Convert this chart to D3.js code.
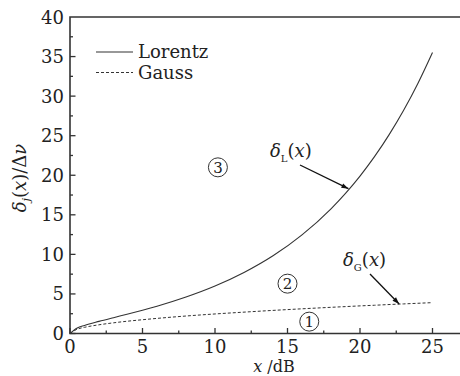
<!DOCTYPE html>
<html>
<head>
<meta charset="utf-8">
<script src="https://d3js.org/d3.v7.min.js"></script>
<style>
    body { margin: 0; background: #fff; }
    #chart { width: 460px; height: 376px; overflow: hidden; }
    text { font-family: "DejaVu Serif", serif; fill: #222; }
</style>
</head>
<body>
<div id="chart"></div>
<script>
// x in dB
var x_vals = [0, 0.5, 1, 2, 3, 4, 5, 6, 8, 10, 12, 14, 16, 18, 19, 20, 21, 22, 23, 24, 25];
var lorentz_vals = [0, 0.70, 1.02, 1.53, 2.00, 2.46, 2.94, 3.45, 4.61, 6.00, 7.71, 9.82, 12.46, 15.76, 17.71, 19.90, 22.35, 25.10, 28.18, 31.63, 35.51];
var gauss_vals = [0, 0.55, 0.78, 1.10, 1.35, 1.56, 1.74, 1.91, 2.21, 2.47, 2.70, 2.92, 3.12, 3.31, 3.40, 3.49, 3.57, 3.66, 3.74, 3.82, 3.90];
var x_ticks = [0, 5, 10, 15, 20, 25];
var y_ticks = [0, 5, 10, 15, 20, 25, 30, 35, 40];
var legend_names = ["Lorentz", "Gauss"];

var draw_chart = {
    width: 460,
    height: 376,
    view: 0,
    x: 0,
    y: 0,
    initialize: function() {
        var self = this;
        self.view = d3.select("#chart").append("svg")
            .attr("width", self.width)
            .attr("height", self.height);
        self.x = d3.scaleLinear().domain([0, 28]).range([70, 476]);
        self.y = d3.scaleLinear().domain([0, 40]).range([333.5, 17]);
    },
    draw_axes: function() {
        var self = this;
        var g = self.view.append("g");
        var minor_x = d3.range(0, 28, 2.5);
        var minor_y = d3.range(0, 40, 2.5);

        // ticks, pointing inward
        g.selectAll(".xt").data(minor_x).enter().append("line")
            .attr("x1", function(d) { return self.x(d); })
            .attr("x2", function(d) { return self.x(d); })
            .attr("y1", self.y(0))
            .attr("y2", function(d) { return self.y(0) - (d % 5 == 0 ? 5.5 : 3); })
            .attr("stroke", "#333").attr("stroke-width", 1.3);
        g.selectAll(".yt").data(minor_y).enter().append("line")
            .attr("y1", function(d) { return self.y(d); })
            .attr("y2", function(d) { return self.y(d); })
            .attr("x1", self.x(0))
            .attr("x2", function(d) { return self.x(0) + (d % 5 == 0 ? 5.5 : 3); })
            .attr("stroke", "#333").attr("stroke-width", 1.3);

        // frame
        g.append("path")
            .attr("d", "M" + self.x(28) + "," + self.y(40) + "H" + self.x(0) + "V" + self.y(0) + "H" + self.x(28))
            .attr("fill", "none").attr("stroke", "#333").attr("stroke-width", 1.6);

        g.selectAll(".xl").data(x_ticks).enter().append("text")
            .attr("x", function(d) { return self.x(d); })
            .attr("y", 352.5)
            .attr("text-anchor", "middle")
            .style("font-size", "18px")
            .text(function(d) { return d; });
        g.selectAll(".yl").data(y_ticks).enter().append("text")
            .attr("x", 64)
            .attr("y", function(d) { return self.y(d) + 6.5; })
            .attr("text-anchor", "end")
            .style("font-size", "18px")
            .text(function(d) { return d; });

        // x title
        var xt = g.append("text")
            .attr("x", 274).attr("y", 372)
            .attr("text-anchor", "middle")
            .style("font-size", "16px");
        xt.append("tspan").style("font-style", "italic").text("x");
        xt.append("tspan").text(" /dB");

        // y title
        var yt = g.append("text")
            .attr("transform", "translate(26,178) rotate(-90)")
            .attr("text-anchor", "middle")
            .style("font-size", "18px");
        yt.append("tspan").style("font-style", "italic").text("δ");
        yt.append("tspan").style("font-style", "italic").style("font-size", "11px").attr("dy", 4).text("j");
        yt.append("tspan").attr("dy", -4).text("(");
        yt.append("tspan").style("font-style", "italic").text("x");
        yt.append("tspan").text(")/Δ");
        yt.append("tspan").style("font-style", "italic").text("ν");
    },
    draw_lines: function() {
        var self = this;
        var line = d3.line()
            .x(function(d) { return self.x(d[0]); })
            .y(function(d) { return self.y(d[1]); })
            .curve(d3.curveMonotoneX);

        self.view.append("path")
            .datum(d3.zip(x_vals, lorentz_vals))
            .attr("d", line)
            .attr("fill", "none").attr("stroke", "#333").attr("stroke-width", 1.1);
        self.view.append("path")
            .datum(d3.zip(x_vals, gauss_vals))
            .attr("d", line)
            .attr("fill", "none").attr("stroke", "#333").attr("stroke-width", 1)
            .attr("stroke-dasharray", "3,2");

        // legend
        var lg = self.view.append("g");
        lg.selectAll("line").data(legend_names).enter().append("line")
            .attr("x1", 96).attr("x2", 133)
            .attr("y1", function(d, i) { return 52 + i * 20.5; })
            .attr("y2", function(d, i) { return 52 + i * 20.5; })
            .attr("stroke", "#333").attr("stroke-width", function(d, i) { return i == 0 ? 1.2 : 1; })
            .attr("stroke-dasharray", function(d, i) { return i == 0 ? null : "3,2"; });
        lg.selectAll("text").data(legend_names).enter().append("text")
            .attr("x", 138)
            .attr("y", function(d, i) { return 58 + i * 20.5; })
            .style("font-size", "18px")
            .text(function(d) { return d; });
    },
    draw_notes: function() {
        var self = this;
        var defs = self.view.append("defs");
        defs.append("marker")
            .attr("id", "arrow")
            .attr("viewBox", "0 0 10 10")
            .attr("refX", 10).attr("refY", 5)
            .attr("markerWidth", 9).attr("markerHeight", 7)
            .attr("orient", "auto")
            .attr("markerUnits", "userSpaceOnUse")
            .append("path").attr("d", "M0,1.5L10,5L0,8.5Z").attr("fill", "#111");

        var labels = [
            { sub: "L", tx: 270, ty: 157, ax1: 300, ay1: 165, ax: 19.2, ay: 18.3 },
            { sub: "G", tx: 343, ty: 266, ax1: 370, ay1: 274, ax: 22.7, ay: 3.72 }
        ];
        labels.forEach(function(d) {
            var t = self.view.append("text")
                .attr("x", d.tx).attr("y", d.ty)
                .style("font-size", "18px");
            t.append("tspan").style("font-style", "italic").text("δ");
            t.append("tspan").style("font-size", "10px").attr("dy", 5).text(d.sub);
            t.append("tspan").attr("dy", -5).text("(");
            t.append("tspan").style("font-style", "italic").text("x");
            t.append("tspan").text(")");
            self.view.append("line")
                .attr("x1", d.ax1).attr("y1", d.ay1)
                .attr("x2", self.x(d.ax)).attr("y2", self.y(d.ay))
                .attr("stroke", "#111").attr("stroke-width", 1.3)
                .attr("marker-end", "url(#arrow)");
        });

        var circles = [
            { s: "③", x: 10.2, y: 21 },
            { s: "②", x: 15.0, y: 6.3 },
            { s: "①", x: 16.5, y: 1.5 }
        ];
        var cg = self.view.append("g");
        cg.selectAll("circle").data(circles).enter().append("circle")
            .attr("cx", function(d) { return self.x(d.x); })
            .attr("cy", function(d) { return self.y(d.y); })
            .attr("r", 9.5)
            .attr("fill", "none").attr("stroke", "#333").attr("stroke-width", 1);
        cg.selectAll("text").data(circles).enter().append("text")
            .attr("x", function(d) { return self.x(d.x); })
            .attr("y", function(d) { return self.y(d.y) + 5.5; })
            .attr("text-anchor", "middle")
            .style("font-size", "15px")
            .text(function(d) { return d.s.charCodeAt(0) - 9311; });
    }
}

draw_chart.initialize();
draw_chart.draw_axes();
draw_chart.draw_lines();
draw_chart.draw_notes();
</script>
</body>
</html>
